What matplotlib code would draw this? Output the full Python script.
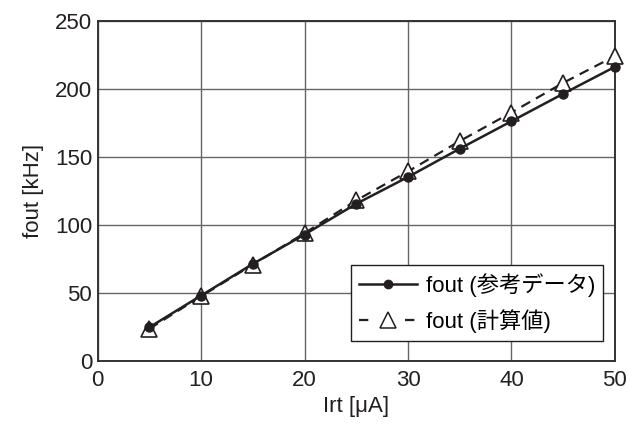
import matplotlib
matplotlib.use("Agg")
import matplotlib.pyplot as plt
from matplotlib.lines import Line2D

plt.rcParams['font.family'] = ['Liberation Sans', 'Noto Sans CJK JP', 'DejaVu Sans']

irt = [5, 10, 15, 20, 25, 30, 35, 40, 45, 50]
fout_ref = [24.6, 47.9, 71.2, 92.8, 115.4, 135.1, 155.9, 176.1, 196.3, 216.1]
fout_calc = [23.5, 47.4, 70.7, 93.8, 117.9, 139.2, 161.5, 182.5, 204.3, 224.0]
xticks = [0, 10, 20, 30, 40, 50]
yticks = [0, 50, 100, 150, 200, 250]
label_ref = "fout (参考データ)"
label_calc = "fout (計算値)"

col = '#231f20'
fig = plt.figure(figsize=(6.3, 4.32), dpi=100)
ax = fig.add_axes([0.155, 0.165, 0.821, 0.787])
ax.plot(irt, fout_calc, '--', color=col, lw=1.6, dashes=(4.5, 3), marker='^', ms=12,
        mfc='white', mec=col, mew=1.2, zorder=3, clip_on=False)
ax.plot(irt, fout_ref, '-', color=col, lw=1.8, marker='o', ms=6.5,
        mfc=col, mec=col, zorder=4, clip_on=False)
ax.set_xlim(0, 50)
ax.set_ylim(0, 250)
ax.set_xticks(xticks)
ax.set_yticks(yticks)
ax.grid(True, color='#666666', lw=1.0)
ax.set_axisbelow(True)
ax.tick_params(axis='x', length=0, labelsize=16, pad=7, colors=col)
ax.tick_params(axis='y', length=0, labelsize=16, pad=4, colors=col)
for s in ax.spines.values():
    s.set_color('#333333')
    s.set_linewidth(1.4)
ax.set_xlabel("Irt [μA]", fontsize=16, color=col, labelpad=3)
ax.set_ylabel("fout [kHz]", fontsize=16, color=col, labelpad=8)

h_ref = Line2D([], [], color=col, lw=1.8, marker='o', ms=6, mfc=col, mec=col)
h_calc = Line2D([], [], color=col, lw=1.6, linestyle=(0, (4.2, 16.5)), marker='^',
                ms=11, mfc='white', mec=col, mew=1.1)
leg = ax.legend([h_ref, h_calc], [label_ref, label_calc], loc='lower right',
                bbox_to_anchor=(0.977, 0.059),
                fontsize=16, frameon=True, fancybox=False,
                edgecolor=col, framealpha=1, handlelength=2.6, borderaxespad=0,
                borderpad=0.35, labelspacing=0.55, handletextpad=0.4)
leg.get_frame().set_linewidth(1.0)
fig.savefig("out.png", dpi=100)
